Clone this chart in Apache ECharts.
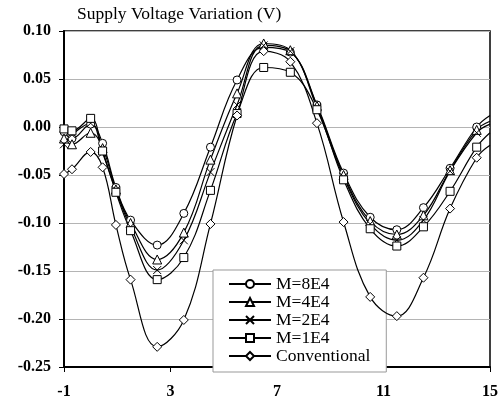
<!DOCTYPE html>
<html>
<head>
<meta charset="utf-8">
<script src="https://cdn.jsdelivr.net/npm/echarts@6/dist/echarts.min.js"></script>
<style>
  html, body { margin: 0; padding: 0; background: #fff; }
  #chart { width: 501px; height: 401px; }
</style>
</head>
<body>
<div id="chart"></div>
<script>
// x positions of the sampled points (last one only closes the line at the frame)
var xs = [-1, -0.7, 0, 0.45, 0.95, 1.5, 2.5, 3.5, 4.5, 5.5, 6.5, 7.5, 8.5, 9.5, 10.5, 11.5, 12.5, 13.5, 14.5, 15];

var m8e4 = [-0.005, -0.012, 0.003, -0.017, -0.063, -0.097, -0.123, -0.090, -0.021, 0.049, 0.083, 0.078, 0.023, -0.048, -0.094, -0.107, -0.084, -0.043, 0.000, 0.012];
var m4e4 = [-0.012, -0.018, -0.006, -0.022, -0.065, -0.100, -0.138, -0.110, -0.034, 0.035, 0.087, 0.080, 0.022, -0.050, -0.098, -0.112, -0.092, -0.045, -0.003, 0.006];
var m2e4 = [-0.018, -0.008, 0.004, -0.027, -0.066, -0.104, -0.149, -0.118, -0.047, 0.023, 0.085, 0.079, 0.020, -0.052, -0.101, -0.118, -0.097, -0.046, -0.006, 0.003];
var m1e4 = [-0.002, -0.004, 0.009, -0.025, -0.068, -0.108, -0.159, -0.136, -0.066, 0.014, 0.062, 0.057, 0.018, -0.055, -0.106, -0.124, -0.104, -0.067, -0.021, -0.006];
var conv = [-0.049, -0.044, -0.026, -0.042, -0.102, -0.159, -0.229, -0.201, -0.101, 0.012, 0.079, 0.068, 0.004, -0.099, -0.177, -0.197, -0.157, -0.085, -0.032, -0.019];

var seriesNames = ['M=8E4', 'M=4E4', 'M=2E4', 'M=1E4', 'Conventional'];
var xTicks = [-1, 3, 7, 11, 15];
var yTicks = [-0.25, -0.20, -0.15, -0.10, -0.05, 0.00, 0.05, 0.10];

var chart = echarts.init(document.getElementById('chart'));
var font = 'Liberation Serif';
var crossPath = 'path://M0,0L10,10M10,0L0,10';

function makeSeries(name, values, symbol, size) {
  return {
    name: name,
    type: 'line',
    smooth: 0.4,
    symbol: symbol,
    symbolSize: size,
    clip: true,
    lineStyle: {color: '#000', width: 1.2},
    itemStyle: {color: '#fff', borderColor: '#000', borderWidth: 1},
    data: values.map(function(v, i) {
      var item = {value: [xs[i], v]};
      if (i === values.length - 1) {
        item.symbol = 'none'; // last point just carries the line to the edge
      }
      return item;
    })
  };
}

chart.setOption({
  animation: false,
  title: {
    text: 'Supply Voltage Variation (V)',
    left: 77, top: 5, padding: 0,
    textStyle: {fontFamily: font, fontSize: 17.5, fontWeight: 'normal', color: '#000'}
  },
  grid: {left: 64, right: 9, top: 31, bottom: 34, show: true, borderColor: '#000', borderWidth: 1.5},
  legend: {
    orient: 'vertical',
    left: 213, top: 270,
    z: 1,
    padding: [5, 16, 7, 15],
    itemGap: 0,
    itemWidth: 42, itemHeight: 10,
    backgroundColor: '#fff',
    borderColor: '#999', borderWidth: 1,
    textStyle: {fontFamily: font, fontSize: 17.5, color: '#000'},
    data: seriesNames
  },
  xAxis: {
    type: 'value',
    min: -1, max: 15,
    axisLine: {onZero: false, lineStyle: {color: '#000', width: 2}},
    axisTick: {show: true, length: 5, lineStyle: {color: '#000', width: 1}, customValues: xTicks},
    axisLabel: {fontFamily: font, fontSize: 16, fontWeight: 'bold', color: '#000', margin: 17, customValues: xTicks},
    splitLine: {show: false}
  },
  yAxis: {
    type: 'value',
    min: yTicks[0], max: yTicks[yTicks.length - 1], interval: 0.05,
    axisLine: {show: true, onZero: false, lineStyle: {color: '#000', width: 2}},
    axisTick: {show: true, length: 5, lineStyle: {color: '#000', width: 1}},
    axisLabel: {
      fontFamily: font, fontSize: 16, fontWeight: 'bold', color: '#000', margin: 13,
      formatter: function(v) { return v.toFixed(2); }
    },
    splitLine: {show: true, lineStyle: {color: '#b4b4b4', width: 1}}
  },
  series: [
    makeSeries(seriesNames[0], m8e4, 'circle', 8),
    makeSeries(seriesNames[1], m4e4, 'triangle', 9),
    makeSeries(seriesNames[2], m2e4, crossPath, 8),
    makeSeries(seriesNames[3], m1e4, 'rect', 8),
    makeSeries(seriesNames[4], conv, 'diamond', 9)
  ]
});
</script>
</body>
</html>
